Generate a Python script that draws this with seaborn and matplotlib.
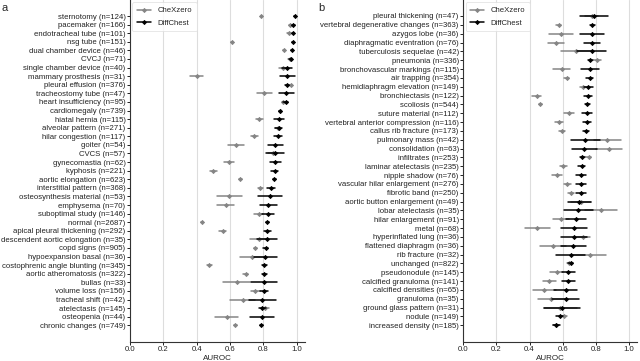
import numpy as np
import pandas as pd
import matplotlib
matplotlib.use("Agg")
import matplotlib.pyplot as plt
from matplotlib.lines import Line2D
import seaborn as sns

# ---------------- data: panel a ----------------
a_names = ["sternotomy", "pacemaker", "endotracheal tube", "nsg tube", "dual chamber device", "CVCJ",
           "single chamber device", "mammary prosthesis", "pleural effusion", "tracheostomy tube",
           "heart insufficiency", "cardiomegaly", "hiatal hernia", "alveolar pattern", "hilar congestion",
           "goiter", "CVCS", "gynecomastia", "kyphosis", "aortic elongation", "interstitial pattern",
           "osteosynthesis material", "emphysema", "suboptimal study", "normal", "apical pleural thickening",
           "descendent aortic elongation", "copd signs", "hypoexpansion basal", "costophrenic angle blunting",
           "aortic atheromatosis", "bullas", "volume loss", "tracheal shift", "atelectasis", "osteopenia",
           "chronic changes"]
a_n = [124, 166, 101, 151, 46, 71, 40, 31, 376, 47, 95, 739, 115, 271, 117, 54, 57, 62, 221, 623, 368,
       53, 70, 146, 2687, 292, 35, 905, 36, 345, 322, 33, 156, 42, 145, 44, 749]
a_che = [0.788, 0.960, 0.952, 0.610, 0.924, 0.958, 0.916, 0.400, 0.964, 0.806, 0.920, 0.900, 0.776, 0.885,
         0.746, 0.636, 0.860, 0.596, 0.500, 0.662, 0.780, 0.596, 0.574, 0.772, 0.430, 0.556, 0.772, 0.752,
         0.734, 0.474, 0.694, 0.640, 0.752, 0.676, 0.812, 0.580, 0.632]
a_che_err = [0.005, 0.008, 0.008, 0.006, 0.008, 0.008, 0.020, 0.040, 0.010, 0.045, 0.010, 0.008, 0.020, 0.015,
             0.020, 0.050, 0.030, 0.030, 0.020, 0.008, 0.015, 0.073, 0.050, 0.028, 0.006, 0.020, 0.055, 0.010,
             0.073, 0.015, 0.015, 0.080, 0.025, 0.076, 0.020, 0.070, 0.010]
a_diff = [0.988, 0.980, 0.978, 0.976, 0.974, 0.964, 0.942, 0.942, 0.942, 0.938, 0.934, 0.900, 0.894, 0.892,
          0.886, 0.872, 0.870, 0.872, 0.868, 0.866, 0.846, 0.840, 0.830, 0.828, 0.824, 0.824, 0.820, 0.814,
          0.812, 0.806, 0.806, 0.804, 0.804, 0.794, 0.794, 0.792, 0.788]
a_diff_err = [0.004, 0.008, 0.008, 0.005, 0.006, 0.010, 0.030, 0.045, 0.010, 0.045, 0.015, 0.008, 0.030, 0.020,
              0.025, 0.045, 0.055, 0.035, 0.020, 0.010, 0.025, 0.073, 0.050, 0.035, 0.008, 0.020, 0.060, 0.015,
              0.067, 0.015, 0.015, 0.080, 0.025, 0.080, 0.020, 0.073, 0.010]

# ---------------- data: panel b ----------------
b_names = ["pleural thickening", "vertebral degenerative changes", "azygos lobe", "diaphragmatic eventration",
           "tuberculosis sequelae", "pneumonia", "bronchovascular markings", "air trapping",
           "hemidiaphragm elevation", "bronchiectasis", "scoliosis", "suture material",
           "vertebral anterior compression", "callus rib fracture", "pulmonary mass", "consolidation",
           "infiltrates", "laminar atelectasis", "nipple shadow", "vascular hilar enlargement", "fibrotic band",
           "aortic button enlargement", "lobar atelectasis", "hilar enlargement", "metal", "hyperinflated lung",
           "flattened diaphragm", "rib fracture", "unchanged", "pseudonodule", "calcified granuloma",
           "calcified densities", "granuloma", "ground glass pattern", "nodule", "increased density"]
b_n = [47, 363, 36, 76, 42, 336, 115, 354, 149, 122, 544, 112, 116, 173, 42, 63, 253, 235, 76, 276, 250, 49,
       35, 91, 68, 36, 36, 32, 822, 145, 141, 65, 35, 31, 149, 185]
b_che = [0.775, 0.577, 0.590, 0.559, 0.680, 0.808, 0.593, 0.623, 0.723, 0.442, 0.464, 0.639, 0.579, 0.595,
         0.870, 0.880, 0.757, 0.603, 0.567, 0.627, 0.651, 0.710, 0.830, 0.590, 0.446, 0.725, 0.542, 0.763,
         0.640, 0.564, 0.518, 0.488, 0.532, 0.586, 0.608, 0.560]
b_che_err = [0.040, 0.015, 0.072, 0.048, 0.090, 0.020, 0.052, 0.015, 0.020, 0.025, 0.010, 0.030, 0.025, 0.020,
             0.083, 0.077, 0.015, 0.020, 0.030, 0.020, 0.020, 0.060, 0.095, 0.050, 0.075, 0.040, 0.080, 0.100,
             0.015, 0.040, 0.040, 0.070, 0.080, 0.100, 0.020, 0.020]
b_diff = [0.788, 0.777, 0.777, 0.775, 0.775, 0.767, 0.763, 0.763, 0.755, 0.753, 0.749, 0.747, 0.745, 0.741,
          0.735, 0.731, 0.717, 0.715, 0.713, 0.709, 0.709, 0.700, 0.695, 0.679, 0.667, 0.669, 0.663, 0.647,
          0.647, 0.633, 0.633, 0.618, 0.618, 0.596, 0.582, 0.562]
b_diff_err = [0.083, 0.015, 0.073, 0.047, 0.088, 0.015, 0.053, 0.020, 0.025, 0.025, 0.015, 0.030, 0.025, 0.020,
              0.087, 0.075, 0.015, 0.020, 0.030, 0.030, 0.030, 0.070, 0.090, 0.060, 0.080, 0.080, 0.075, 0.090,
              0.015, 0.040, 0.040, 0.070, 0.080, 0.110, 0.020, 0.020]

models = ["CheXzero", "DiffChest"]
palette = {"CheXzero": "#858585", "DiffChest": "#000000"}
x_ticks = [0.0, 0.2, 0.4, 0.6, 0.8, 1.0]


def long_frame(names, ns, che, che_err, diff, diff_err):
    rows = []
    labels = [f"{nm} (n={n})" for nm, n in zip(names, ns)]
    for model, vals, errs in (("CheXzero", che, che_err), ("DiffChest", diff, diff_err)):
        for lab, v, e in zip(labels, vals, errs):
            for val in (v - e, v, v + e):
                rows.append({"label": lab, "model": model, "auroc": val})
    return pd.DataFrame(rows), labels


sns.set_style("ticks")
plt.rcParams["font.family"] = ["Liberation Sans", "DejaVu Sans"]
plt.rcParams["axes.edgecolor"] = "#333333"
plt.rcParams["axes.linewidth"] = 0.8

fig = plt.figure(figsize=(6.4, 3.61), dpi=100)
W, H = 640, 361
ax_a = fig.add_axes([130 / W, (H - 341.5) / H, 175 / W, 341.5 / H])
ax_b = fig.add_axes([463.3 / W, (H - 341.5) / H, 174 / W, 341.5 / H])

panels = [
    (ax_a, a_names, a_n, a_che, a_che_err, a_diff, a_diff_err),
    (ax_b, b_names, b_n, b_che, b_che_err, b_diff, b_diff_err),
]

for ax, names, ns, che, che_err, diff, diff_err in panels:
    df, labels = long_frame(names, ns, che, che_err, diff, diff_err)
    ax.grid(axis="x", color="#dddddd", linewidth=0.8, zorder=0)
    ax.set_axisbelow(True)
    sns.pointplot(data=df, x="auroc", y="label", hue="model", order=labels, hue_order=models,
                  palette=palette, estimator="median", errorbar=("pi", 100), dodge=False,
                  markers="D", linestyles="none", markersize=2.1, markeredgewidth=0.6,
                  err_kws={"linewidth": 1.1}, ax=ax, legend=False)
    n = len(labels)
    row_px = (325.3 - 16) / (n - 1)
    ax.set_ylim(n - 1 + 16.2 / row_px, -16 / row_px)
    ax.set_xlim(0, 1.05)
    ax.set_xticks(x_ticks)
    ax.set_xticklabels([f"{t:.1f}" for t in x_ticks])
    ax.set_xlabel("AUROC", fontsize=5.8, labelpad=1.5, color="#222222")
    ax.set_ylabel("")
    ax.tick_params(axis="both", labelsize=5.55, length=2.2, width=0.7, pad=1, colors="#222222")
    sns.despine(ax=ax)
    handles = [Line2D([], [], color=palette[m], marker="D", markersize=2.1, markeredgewidth=0.6,
                      linewidth=1.1) for m in models]
    leg = ax.legend(handles, models, loc="upper left", fontsize=5.6, frameon=True, borderaxespad=0.3,
                    handlelength=1.8, labelspacing=0.6, borderpad=0.6)
    leg.get_frame().set_edgecolor("#dddddd")
    leg.get_frame().set_linewidth(0.6)

fig.text(2 / W, 1 - 8 / H, "a", fontsize=8, va="center", ha="left")
fig.text(318 / W, 1 - 8 / H, "b", fontsize=8, va="center", ha="left")

fig.savefig("out.png", dpi=100)
